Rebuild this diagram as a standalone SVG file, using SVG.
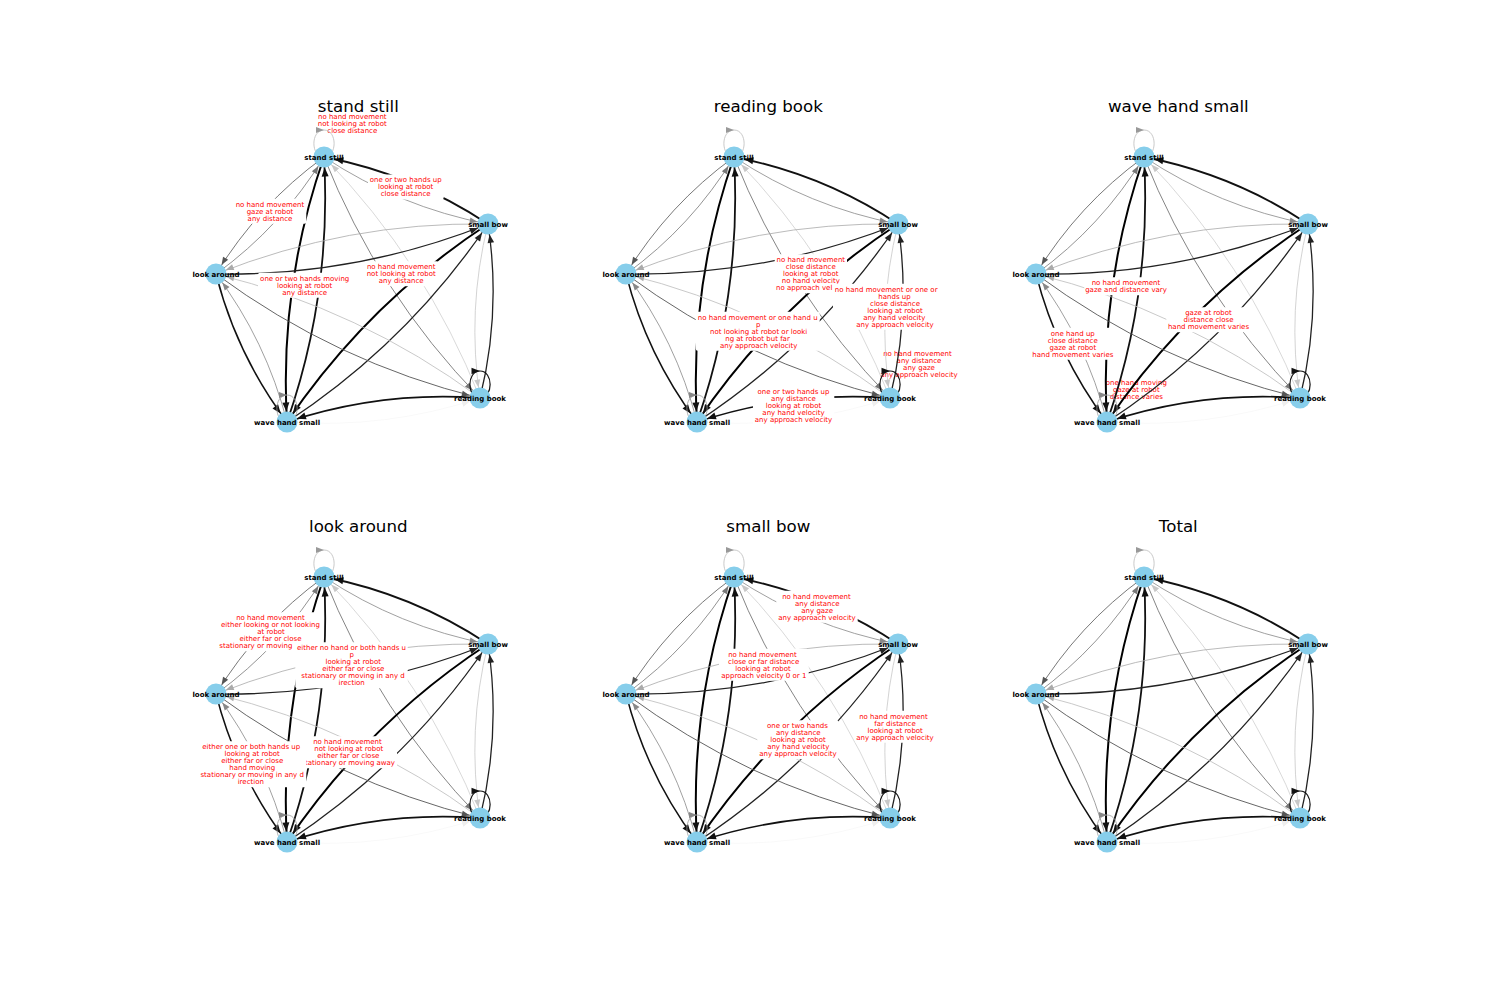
<svg xmlns="http://www.w3.org/2000/svg" xmlns:xlink="http://www.w3.org/1999/xlink" width="1500" height="1000" viewBox="0 0 1500 1000">
<style>
.title{font-family:"DejaVu Sans",sans-serif;font-size:16.67px;fill:#000;text-anchor:middle}
.nd{fill:#87CEEB}
.nl{font-family:"DejaVu Sans",sans-serif;font-size:7px;font-weight:bold;fill:#000;text-anchor:middle}
.el{font-family:"DejaVu Sans",sans-serif;font-size:7px;fill:#ff0000;text-anchor:middle}
.bx{fill:#fff}
</style>
<defs>
<marker id="mk" viewBox="-20 -5 20 10" markerWidth="20" markerHeight="10" refX="0" refY="0" orient="auto" markerUnits="userSpaceOnUse"><path d="M-19.5,-3.5L-10.5,0L-19.5,3.5Z" fill="#111"/></marker>
<marker id="m2" viewBox="-20 -5 20 10" markerWidth="20" markerHeight="10" refX="0" refY="0" orient="auto" markerUnits="userSpaceOnUse"><path d="M-19,-3.3L-10.5,0L-19,3.3Z" fill="#222"/></marker>
<marker id="m5" viewBox="-20 -5 20 10" markerWidth="20" markerHeight="10" refX="0" refY="0" orient="auto" markerUnits="userSpaceOnUse"><path d="M-18.5,-3L-10.5,0L-18.5,3Z" fill="#555"/></marker>
<marker id="m7" viewBox="-20 -5 20 10" markerWidth="20" markerHeight="10" refX="0" refY="0" orient="auto" markerUnits="userSpaceOnUse"><path d="M-18.5,-3L-10.5,0L-18.5,3Z" fill="#777"/></marker>
<marker id="m8" viewBox="-20 -5 20 10" markerWidth="20" markerHeight="10" refX="0" refY="0" orient="auto" markerUnits="userSpaceOnUse"><path d="M-18.5,-3L-10.5,0L-18.5,3Z" fill="#888"/></marker>
<marker id="ma" viewBox="-20 -5 20 10" markerWidth="20" markerHeight="10" refX="0" refY="0" orient="auto" markerUnits="userSpaceOnUse"><path d="M-18.5,-3L-10.5,0L-18.5,3Z" fill="#aaa"/></marker>
<marker id="mc" viewBox="-20 -5 20 10" markerWidth="20" markerHeight="10" refX="0" refY="0" orient="auto" markerUnits="userSpaceOnUse"><path d="M-18.5,-3L-10.5,0L-18.5,3Z" fill="#c8c8c8"/></marker>
<marker id="md" viewBox="-20 -5 20 10" markerWidth="20" markerHeight="10" refX="0" refY="0" orient="auto" markerUnits="userSpaceOnUse"><path d="M-18.5,-3L-10.5,0L-18.5,3Z" fill="#eee"/></marker>
<marker id="lk" viewBox="-10 -5 10 10" markerWidth="10" markerHeight="10" refX="0" refY="0" orient="auto" markerUnits="userSpaceOnUse"><path d="M-8.5,-3.3L0,0L-8.5,3.3Z" fill="#111"/></marker>
<marker id="l8" viewBox="-10 -5 10 10" markerWidth="10" markerHeight="10" refX="0" refY="0" orient="auto" markerUnits="userSpaceOnUse"><path d="M-8,-3L0,0L-8,3Z" fill="#888"/></marker>
<marker id="la" viewBox="-10 -5 10 10" markerWidth="10" markerHeight="10" refX="0" refY="0" orient="auto" markerUnits="userSpaceOnUse"><path d="M-8,-3L0,0L-8,3Z" fill="#999"/></marker>
<g id="edges" fill="none">
<path d="M324 157Q399.3 206.9 488 224" stroke="#888" stroke-width="0.8" marker-end="url(#m8)"/>
<path d="M488 224Q412.7 174.1 324 157" stroke="#111" stroke-width="1.8" marker-end="url(#mk)"/>
<path d="M324 157Q258.3 204.7 216 274" stroke="#555" stroke-width="0.8" marker-end="url(#m5)"/>
<path d="M216 274Q281.7 226.3 324 157" stroke="#777" stroke-width="0.8" marker-end="url(#m7)"/>
<path d="M324 157Q377.9 293.1 480 398" stroke="#777" stroke-width="0.9" marker-end="url(#m7)"/>
<path d="M480 398Q426.1 261.9 324 157" stroke="#c8c8c8" stroke-width="0.7" marker-end="url(#mc)"/>
<path d="M324 157Q279 285.8 287 422" stroke="#000" stroke-width="2" marker-end="url(#mk)"/>
<path d="M287 422Q332 293.2 324 157" stroke="#111" stroke-width="1.8" marker-end="url(#mk)"/>
<path d="M488 224Q347 221.8 216 274" stroke="#aaa" stroke-width="0.8" marker-end="url(#ma)"/>
<path d="M216 274Q357 276.2 488 224" stroke="#222" stroke-width="1.3" marker-end="url(#m2)"/>
<path d="M488 224Q466.6 310.2 480 398" stroke="#c8c8c8" stroke-width="0.8" marker-end="url(#mc)"/>
<path d="M480 398Q501.4 311.8 488 224" stroke="#222" stroke-width="1.3" marker-end="url(#m2)"/>
<path d="M488 224Q367.7 302.9 287 422" stroke="#000" stroke-width="2" marker-end="url(#mk)"/>
<path d="M287 422Q407.3 343.1 488 224" stroke="#222" stroke-width="1.3" marker-end="url(#m2)"/>
<path d="M216 274Q335.6 362.4 480 398" stroke="#555" stroke-width="0.9" marker-end="url(#m5)"/>
<path d="M480 398Q360.4 309.6 216 274" stroke="#bbb" stroke-width="0.8" marker-end="url(#ma)"/>
<path d="M216 274Q236.7 355.1 287 422" stroke="#111" stroke-width="1.5" marker-end="url(#mk)"/>
<path d="M287 422Q266.3 340.9 216 274" stroke="#888" stroke-width="0.8" marker-end="url(#m8)"/>
<path d="M480 398Q381.1 390.7 287 422" stroke="#111" stroke-width="1.6" marker-end="url(#mk)"/>
<path d="M287 422Q385.9 429.3 480 398" stroke="#f2f2f2" stroke-width="0.5" marker-end="url(#md)"/>
<path d="M324 130C337.5 130 337.5 157 324 157C310.5 157 310.5 130 324 130" stroke="#bbb" stroke-width="0.8" marker-end="url(#la)"/>
<path d="M480 371C493.5 371 493.5 398 480 398C466.5 398 466.5 371 480 371" stroke="#111" stroke-width="1.2" marker-end="url(#lk)"/>
<path d="M287 395C300.5 395 300.5 422 287 422C273.5 422 273.5 395 287 395" stroke="#999" stroke-width="0.8" marker-end="url(#l8)"/>
</g>
</defs>

<g id="titles">
<text class="title" x="358.3" y="111.5">stand still</text>
<text class="title" x="768.3" y="111.5">reading book</text>
<text class="title" x="1178.3" y="111.5">wave hand small</text>
<text class="title" x="358.3" y="531.5">look around</text>
<text class="title" x="768.3" y="531.5">small bow</text>
<text class="title" x="1178.3" y="531.5">Total</text>
</g>

<g id="loop-labels">
<text class="el"><tspan x="352.3" y="119">no hand movement</tspan><tspan x="352.3" y="126">not looking at robot</tspan><tspan x="352.3" y="133">close distance</tspan></text>
<text class="el"><tspan x="917.5" y="355.6">no hand movement</tspan><tspan x="919" y="362.6">any distance</tspan><tspan x="919" y="369.6">any gaze</tspan><tspan x="919" y="376.6">any approach velocity</tspan></text>
<text class="el"><tspan x="1136.3" y="385">one hand moving</tspan><tspan x="1136.3" y="392">gaze at robot</tspan><tspan x="1136.3" y="399">distance varies</tspan></text>
</g>

<g id="connectors">
<use xlink:href="#edges" href="#edges"/>
<use xlink:href="#edges" href="#edges" transform="translate(410,0)"/>
<use xlink:href="#edges" href="#edges" transform="translate(820,0)"/>
<use xlink:href="#edges" href="#edges" transform="translate(0,420)"/>
<use xlink:href="#edges" href="#edges" transform="translate(410,420)"/>
<use xlink:href="#edges" href="#edges" transform="translate(820,420)"/>
</g>

<g id="edge-labels">
<!-- stand still -->
<g><rect class="bx" x="368" y="174.5" width="75.7" height="25" rx="2"/><text class="el"><tspan x="405.7" y="182.3">one or two hands up</tspan><tspan x="405.7" y="189.3">looking at robot</tspan><tspan x="405.7" y="196.3">close distance</tspan></text></g>
<g><rect class="bx" x="233.7" y="198.8" width="72.6" height="25" rx="2"/><text class="el"><tspan x="270" y="206.6">no hand movement</tspan><tspan x="270" y="213.6">gaze at robot</tspan><tspan x="270" y="220.6">any distance</tspan></text></g>
<g><rect class="bx" x="258" y="272.8" width="93.3" height="25" rx="2"/><text class="el"><tspan x="304.7" y="280.6">one or two hands moving</tspan><tspan x="304.7" y="287.6">looking at robot</tspan><tspan x="304.7" y="294.6">any distance</tspan></text></g>
<g><rect class="bx" x="364.7" y="261.2" width="74" height="25" rx="2"/><text class="el"><tspan x="401.2" y="269">no hand movement</tspan><tspan x="401.2" y="276">not looking at robot</tspan><tspan x="401.2" y="283">any distance</tspan></text></g>
<!-- reading book -->
<g><rect class="bx" x="774.7" y="254.2" width="72.3" height="39" rx="2"/><text class="el"><tspan x="810.8" y="262">no hand movement</tspan><tspan x="810.8" y="269">close distance</tspan><tspan x="810.8" y="276">looking at robot</tspan><tspan x="810.8" y="283">no hand velocity</tspan><tspan x="776" y="290" text-anchor="start">no approach vel</tspan></text></g>
<g><rect class="bx" x="833" y="283.8" width="106.3" height="46" rx="2"/><text class="el"><tspan x="886.2" y="291.6">no hand movement or one or</tspan><tspan x="894.5" y="298.6">hands up</tspan><tspan x="895" y="305.6">close distance</tspan><tspan x="895" y="312.6">looking at robot</tspan><tspan x="894.3" y="319.6">any hand velocity</tspan><tspan x="895" y="326.6">any approach velocity</tspan></text></g>
<g><rect class="bx" x="695.7" y="311.8" width="124" height="39" rx="2"/><text class="el"><tspan x="757.7" y="319.6">no hand movement or one hand u</tspan><tspan x="758.3" y="326.6">p</tspan><tspan x="758.7" y="333.6">not looking at robot or looki</tspan><tspan x="757.5" y="340.6">ng at robot but far</tspan><tspan x="758.7" y="347.6">any approach velocity</tspan></text></g>
<g><rect class="bx" x="753" y="386.2" width="81.3" height="39" rx="2"/><text class="el"><tspan x="793.5" y="394">one or two hands up</tspan><tspan x="793.5" y="401">any distance</tspan><tspan x="793.5" y="408">looking at robot</tspan><tspan x="793.5" y="415">any hand velocity</tspan><tspan x="793.5" y="422">any approach velocity</tspan></text></g>
<!-- wave hand small -->
<g><rect class="bx" x="1084.3" y="277.2" width="85" height="18" rx="2"/><text class="el"><tspan x="1126" y="285">no hand movement</tspan><tspan x="1126" y="292">gaze and distance vary</tspan></text></g>
<g><rect class="bx" x="1166.3" y="307.2" width="85" height="25" rx="2"/><text class="el"><tspan x="1208.5" y="315">gaze at robot</tspan><tspan x="1208.5" y="322">distance close</tspan><tspan x="1208.5" y="329">hand movement varies</tspan></text></g>
<g><rect class="bx" x="1030.3" y="327.8" width="85" height="32" rx="2"/><text class="el"><tspan x="1072.8" y="335.6">one hand up</tspan><tspan x="1072.8" y="342.6">close distance</tspan><tspan x="1072.8" y="349.6">gaze at robot</tspan><tspan x="1072.8" y="356.6">hand movement varies</tspan></text></g>
<!-- look around -->
<g><rect class="bx" x="219" y="612.2" width="103" height="39" rx="2"/><text class="el"><tspan x="270.5" y="620">no hand movement</tspan><tspan x="270.5" y="627">either looking or not looking</tspan><tspan x="271" y="634">at robot</tspan><tspan x="270.5" y="641">either far or close</tspan><tspan x="219.3" y="648" text-anchor="start">stationary or moving</tspan></text></g>
<g><rect class="bx" x="295.3" y="642.2" width="112.4" height="46" rx="2"/><text class="el"><tspan x="351.5" y="650">either no hand or both hands u</tspan><tspan x="351.7" y="657">p</tspan><tspan x="353.3" y="664">looking at robot</tspan><tspan x="353.3" y="671">either far or close</tspan><tspan x="353" y="678">stationary or moving in any d</tspan><tspan x="351.7" y="685">irection</tspan></text></g>
<g><rect class="bx" x="299.5" y="736.2" width="97.5" height="32" rx="2"/><text class="el"><tspan x="347.5" y="744">no hand movement</tspan><tspan x="348.8" y="751">not looking at robot</tspan><tspan x="348.3" y="758">either far or close</tspan><tspan x="395" y="765" text-anchor="end">tationary or moving away</tspan></text></g>
<g><rect class="bx" x="198" y="741.2" width="108.3" height="46" rx="2"/><text class="el"><tspan x="251.2" y="749">either one or both hands up</tspan><tspan x="252.2" y="756">looking at robot</tspan><tspan x="252.2" y="763">either far or close</tspan><tspan x="252.2" y="770">hand moving</tspan><tspan x="252.2" y="777">stationary or moving in any d</tspan><tspan x="250.8" y="784">irection</tspan></text></g>
<!-- small bow -->
<g><rect class="bx" x="776.3" y="590.8" width="81.4" height="32" rx="2"/><text class="el"><tspan x="816.5" y="598.6">no hand movement</tspan><tspan x="817.3" y="605.6">any distance</tspan><tspan x="817.2" y="612.6">any gaze</tspan><tspan x="817" y="619.6">any approach velocity</tspan></text></g>
<g><rect class="bx" x="719" y="648.8" width="89.7" height="32" rx="2"/><text class="el"><tspan x="762.5" y="656.6">no hand movement</tspan><tspan x="763.7" y="663.6">close or far distance</tspan><tspan x="763" y="670.6">looking at robot</tspan><tspan x="763.8" y="677.6">approach velocity 0 or 1</tspan></text></g>
<g><rect class="bx" x="757.3" y="720.2" width="81.4" height="39" rx="2"/><text class="el"><tspan x="797.5" y="728">one or two hands</tspan><tspan x="798.3" y="735">any distance</tspan><tspan x="798" y="742">looking at robot</tspan><tspan x="798.3" y="749">any hand velocity</tspan><tspan x="798" y="756">any approach velocity</tspan></text></g>
<g><rect class="bx" x="854.7" y="710.8" width="80.6" height="32" rx="2"/><text class="el"><tspan x="893.5" y="718.6">no hand movement</tspan><tspan x="895" y="725.6">far distance</tspan><tspan x="895.2" y="732.6">looking at robot</tspan><tspan x="895" y="739.6">any approach velocity</tspan></text></g>
</g>

<g id="nodes">
<g id="p1-stand-still"><circle class="nd" cx="324" cy="157" r="10.5"/><text class="nl" x="324" y="159.5">stand still</text></g>
<g id="p1-small-bow"><circle class="nd" cx="488" cy="224" r="10.5"/><text class="nl" x="488" y="226.5">small bow</text></g>
<g id="p1-look-around"><circle class="nd" cx="216" cy="274" r="10.5"/><text class="nl" x="216" y="276.5">look around</text></g>
<g id="p1-reading-book"><circle class="nd" cx="480" cy="398" r="10.5"/><text class="nl" x="480" y="400.5">reading book</text></g>
<g id="p1-wave-hand-small"><circle class="nd" cx="287" cy="422" r="10.5"/><text class="nl" x="287" y="424.5">wave hand small</text></g>

<g id="p2-stand-still"><circle class="nd" cx="734" cy="157" r="10.5"/><text class="nl" x="734" y="159.5">stand still</text></g>
<g id="p2-small-bow"><circle class="nd" cx="898" cy="224" r="10.5"/><text class="nl" x="898" y="226.5">small bow</text></g>
<g id="p2-look-around"><circle class="nd" cx="626" cy="274" r="10.5"/><text class="nl" x="626" y="276.5">look around</text></g>
<g id="p2-reading-book"><circle class="nd" cx="890" cy="398" r="10.5"/><text class="nl" x="890" y="400.5">reading book</text></g>
<g id="p2-wave-hand-small"><circle class="nd" cx="697" cy="422" r="10.5"/><text class="nl" x="697" y="424.5">wave hand small</text></g>

<g id="p3-stand-still"><circle class="nd" cx="1144" cy="157" r="10.5"/><text class="nl" x="1144" y="159.5">stand still</text></g>
<g id="p3-small-bow"><circle class="nd" cx="1308" cy="224" r="10.5"/><text class="nl" x="1308" y="226.5">small bow</text></g>
<g id="p3-look-around"><circle class="nd" cx="1036" cy="274" r="10.5"/><text class="nl" x="1036" y="276.5">look around</text></g>
<g id="p3-reading-book"><circle class="nd" cx="1300" cy="398" r="10.5"/><text class="nl" x="1300" y="400.5">reading book</text></g>
<g id="p3-wave-hand-small"><circle class="nd" cx="1107" cy="422" r="10.5"/><text class="nl" x="1107" y="424.5">wave hand small</text></g>

<g id="p4-stand-still"><circle class="nd" cx="324" cy="577" r="10.5"/><text class="nl" x="324" y="579.5">stand still</text></g>
<g id="p4-small-bow"><circle class="nd" cx="488" cy="644" r="10.5"/><text class="nl" x="488" y="646.5">small bow</text></g>
<g id="p4-look-around"><circle class="nd" cx="216" cy="694" r="10.5"/><text class="nl" x="216" y="696.5">look around</text></g>
<g id="p4-reading-book"><circle class="nd" cx="480" cy="818" r="10.5"/><text class="nl" x="480" y="820.5">reading book</text></g>
<g id="p4-wave-hand-small"><circle class="nd" cx="287" cy="842" r="10.5"/><text class="nl" x="287" y="844.5">wave hand small</text></g>

<g id="p5-stand-still"><circle class="nd" cx="734" cy="577" r="10.5"/><text class="nl" x="734" y="579.5">stand still</text></g>
<g id="p5-small-bow"><circle class="nd" cx="898" cy="644" r="10.5"/><text class="nl" x="898" y="646.5">small bow</text></g>
<g id="p5-look-around"><circle class="nd" cx="626" cy="694" r="10.5"/><text class="nl" x="626" y="696.5">look around</text></g>
<g id="p5-reading-book"><circle class="nd" cx="890" cy="818" r="10.5"/><text class="nl" x="890" y="820.5">reading book</text></g>
<g id="p5-wave-hand-small"><circle class="nd" cx="697" cy="842" r="10.5"/><text class="nl" x="697" y="844.5">wave hand small</text></g>

<g id="p6-stand-still"><circle class="nd" cx="1144" cy="577" r="10.5"/><text class="nl" x="1144" y="579.5">stand still</text></g>
<g id="p6-small-bow"><circle class="nd" cx="1308" cy="644" r="10.5"/><text class="nl" x="1308" y="646.5">small bow</text></g>
<g id="p6-look-around"><circle class="nd" cx="1036" cy="694" r="10.5"/><text class="nl" x="1036" y="696.5">look around</text></g>
<g id="p6-reading-book"><circle class="nd" cx="1300" cy="818" r="10.5"/><text class="nl" x="1300" y="820.5">reading book</text></g>
<g id="p6-wave-hand-small"><circle class="nd" cx="1107" cy="842" r="10.5"/><text class="nl" x="1107" y="844.5">wave hand small</text></g>
</g>
</svg>
